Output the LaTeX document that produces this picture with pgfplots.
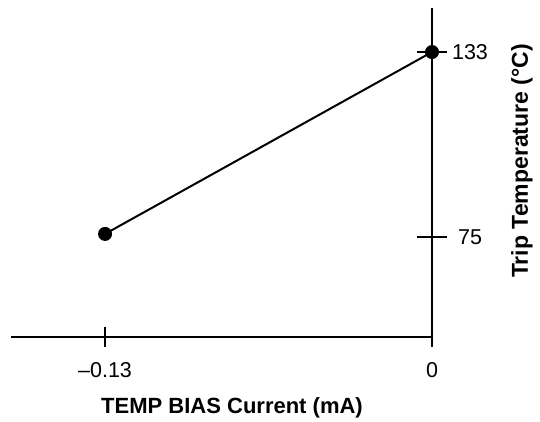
\documentclass[border=0pt]{standalone}
\usepackage{pgfplots}
\pgfplotsset{compat=1.18}
\usepackage{fontspec}
\setmainfont{Liberation Sans}
\begin{document}
\begin{tikzpicture}
\begin{axis}[
  name=ax,
  scale only axis,
  width=421pt, height=329pt,
  xmin=-0.1674, xmax=0,
  ymin=43.7, ymax=146.8,
  axis x line=bottom,
  axis y line=right,
  axis line style={-, line width=1.8pt},
  clip=false,
  tick align=center,
  major tick length=30pt,
  every tick/.style={line width=1.5pt, black},
  xtick={-0.13},
  xticklabels={–0.13},
  xtick style={/pgfplots/major tick length=20pt},
  extra x ticks={0},
  extra x tick labels={0},
  extra x tick style={major tick length=0pt, xticklabel style={yshift=-15pt}},
  ytick={75,133},
  yticklabels={75,133},
  xticklabel style={font=\fontsize{21.5}{24}\selectfont, anchor=center, yshift=-18pt},
  yticklabel style={font=\fontsize{21.5}{24}\selectfont, anchor=center, xshift=23pt},
  xlabel={\textbf{TEMP BIAS Current (mA)}},
  ylabel={\textbf{Trip Temperature (°C)}},
  xlabel style={font=\fontsize{22}{25}\selectfont, at={([yshift=-71pt]rel axis cs:0.525,0)}, anchor=center},
  ylabel style={font=\fontsize{23}{26}\selectfont, at={([xshift=90pt]rel axis cs:1,0.535)}, anchor=center},
]
\addplot[black, line width=2pt, mark=*, mark size=6pt] coordinates {(-0.13,76) (0,133)};
\end{axis}
\path[use as bounding box] ([xshift=-11pt,yshift=-83pt]ax.south west) rectangle ([xshift=108pt,yshift=8pt]ax.north east);
\end{tikzpicture}
\end{document}
